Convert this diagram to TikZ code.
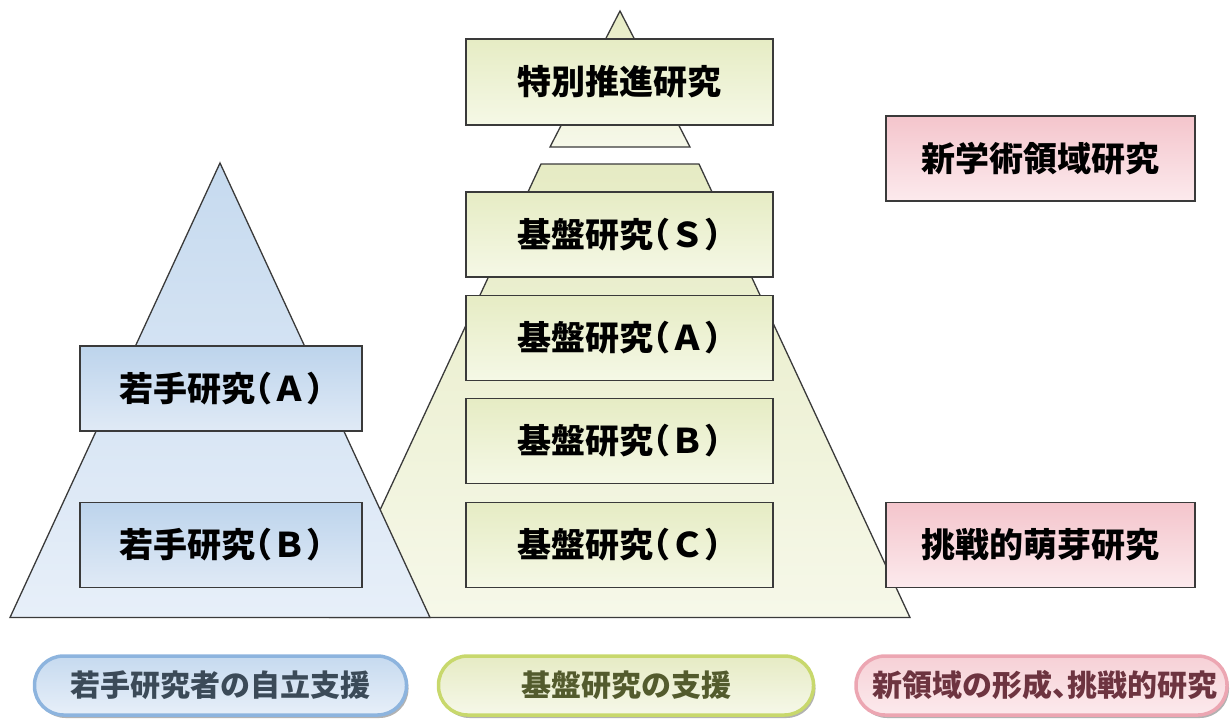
\documentclass[tikz,border=0pt]{standalone}
\usepackage{fontspec}
\newfontfamily\jp[RawFeature=+halt]{Noto Sans CJK JP}
\usetikzlibrary{shadows}
\definecolor{lineC}{HTML}{3A3A3A}
\definecolor{gTop}{HTML}{E6ECC4}
\definecolor{gBot}{HTML}{F5F8E6}
\definecolor{bTop}{HTML}{BDD4EC}
\definecolor{bBot}{HTML}{E0EAF6}
\definecolor{pTop}{HTML}{F4C5CC}
\definecolor{pBot}{HTML}{FCEAED}
\definecolor{bpTop}{HTML}{C6DAEF}
\definecolor{bpBot}{HTML}{E7EFF9}
\definecolor{gpTop}{HTML}{E6EBC4}
\definecolor{gpBot}{HTML}{F6F8E9}
\definecolor{pillBd}{HTML}{8DB4DE}
\definecolor{pillGd}{HTML}{C8D86C}
\definecolor{pillPd}{HTML}{ECA6B2}
\definecolor{pillBtxt}{HTML}{3B4A58}
\definecolor{pillGtxt}{HTML}{535B2D}
\definecolor{pillPtxt}{HTML}{6D3440}
\begin{document}
\begin{tikzpicture}[x=1pt,y=-1pt,
  outl/.style={draw=lineC, line width=1.3pt},
  boxbase/.style={outl, inner sep=0pt, minimum height=85pt,
    font=\jp\bfseries\fontsize{34}{40}\selectfont, text=black},
  gbox/.style={boxbase, top color=gTop, bottom color=gBot, minimum width=307pt},
  bbox/.style={boxbase, top color=bTop, bottom color=bBot, minimum width=282pt},
  pbox/.style={boxbase, top color=pTop, bottom color=pBot, minimum width=309pt},
  pill/.style={line width=3.5pt, rounded corners=29pt, minimum height=59pt, inner sep=0pt,
    font=\jp\bfseries\fontsize{30}{36}\selectfont,
    drop shadow={shadow xshift=2pt, shadow yshift=-3pt, opacity=.3, fill=black}},
  bluepill/.style={pill, draw=pillBd, top color=bpTop, bottom color=bpBot, text=pillBtxt},
  greenpill/.style={pill, draw=pillGd, top color=gpTop, bottom color=gpBot, text=pillGtxt},
  pinkpill/.style={pill, draw=pillPd, top color=pTop!80, bottom color=pBot, text=pillPtxt},
]
\useasboundingbox (0,0) rectangle (1232,720);

% green pyramid
\draw[outl, top color=gpTop, bottom color=gpBot] (620,11) -- (690,147) -- (550,147) -- cycle;
\draw[outl, top color=gpTop, bottom color=gpBot] (541,164) -- (699,164) -- (910,617.5) -- (330,617.5) -- cycle;
% blue pyramid
\draw[outl, top color=bpTop, bottom color=bpBot] (220,163) -- (430,617.5) -- (10,617.5) -- cycle;

% green boxes
\node[gbox, minimum height=86pt] (tokubetsu) at (619.5,82) {特別推進研究};
\node[gbox] (kibanS) at (619.5,234.5) {基盤研究（Ｓ）};
\node[gbox] (kibanA) at (619.5,338) {基盤研究（Ａ）};
\node[gbox] (kibanB) at (619.5,441) {基盤研究（Ｂ）};
\node[gbox] (kibanC) at (619.5,545) {基盤研究（Ｃ）};

% blue boxes
\node[bbox] (wakateA) at (221,388.5) {若手研究（Ａ）};
\node[bbox] (wakateB) at (221,545) {若手研究（Ｂ）};

% pink boxes
\node[pbox] (shingaku) at (1040.5,158.5) {新学術領域研究};
\node[pbox] (chosen) at (1040.5,545) {挑戦的萌芽研究};

% bottom pills
\node[bluepill, minimum width=372pt] (pillB) at (220.5,685.5) {若手研究者の自立支援};
\node[greenpill, minimum width=375pt] (pillG) at (626,685.5) {基盤研究の支援};
\node[pinkpill, minimum width=371pt] (pillP) at (1041.5,685.5) {\hspace*{6pt}新領域の形成、挑戦的研究};
\end{tikzpicture}
\end{document}
